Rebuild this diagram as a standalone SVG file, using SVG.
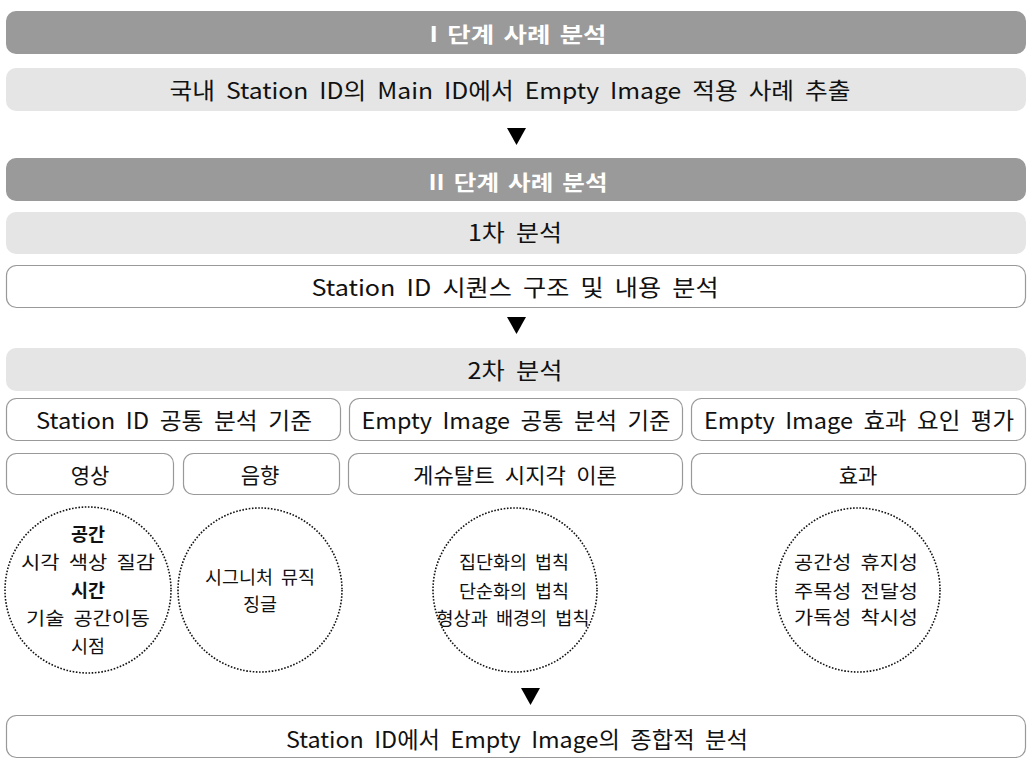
<svg xmlns="http://www.w3.org/2000/svg" width="1027" height="759" viewBox="0 0 1027 759">
<style>
.dark{fill:#9a9a9a;}
.light{fill:#e5e5e5;}
.box{fill:#ffffff;stroke:#999999;stroke-width:1.2;}
.circ{fill:none;stroke:#111111;stroke-width:1.6;stroke-dasharray:1.6 1.6;}
text{font-family:"Malgun Gothic","Noto Sans CJK KR","Noto Sans",sans-serif;fill:#111111;text-anchor:middle;}
.t{font-size:22.5px;word-spacing:5px;}
.s{font-size:21px;word-spacing:5px;}
.h{font-size:21px;font-weight:bold;fill:#ffffff;word-spacing:3px;}
.c{font-size:18.5px;word-spacing:4px;}
.cb{font-size:18.5px;font-weight:bold;}
</style>
<rect width="1027" height="759" fill="#ffffff"/>
<g id="stage1-title"><rect class="dark" x="6" y="11" width="1020" height="43" rx="10"/><text class="h" x="518" y="42" textLength="177" lengthAdjust="spacingAndGlyphs">I 단계 사례 분석</text></g>
<g id="stage1-content"><rect class="light" x="6" y="68" width="1020" height="43" rx="10"/><text class="t" x="510" y="99" textLength="681" lengthAdjust="spacingAndGlyphs">국내 Station ID의 Main ID에서 Empty Image 적용 사례 추출</text></g>
<g id="stage2-title"><rect class="dark" x="6" y="158" width="1020" height="43" rx="10"/><text class="h" x="518" y="190" textLength="179" lengthAdjust="spacingAndGlyphs">II 단계 사례 분석</text></g>
<g id="first-analysis"><rect class="light" x="6" y="212" width="1020" height="42" rx="10"/><text class="t" x="515" y="241" textLength="94" lengthAdjust="spacingAndGlyphs">1차 분석</text></g>
<g id="sequence-analysis"><rect class="box" x="6.5" y="265.5" width="1019" height="42" rx="10"/><text class="t" x="515" y="296" textLength="407" lengthAdjust="spacingAndGlyphs">Station ID 시퀀스 구조 및 내용 분석</text></g>
<g id="second-analysis"><rect class="light" x="6" y="348" width="1020" height="43" rx="10"/><text class="t" x="515" y="379" textLength="95" lengthAdjust="spacingAndGlyphs">2차 분석</text></g>
<g id="station-criteria"><rect class="box" x="6.5" y="398.5" width="334" height="42" rx="10"/><text class="t" x="174" y="429" textLength="276" lengthAdjust="spacingAndGlyphs">Station ID 공통 분석 기준</text></g>
<g id="empty-criteria"><rect class="box" x="349.5" y="398.5" width="333" height="42" rx="10"/><text class="t" x="516" y="429" textLength="309" lengthAdjust="spacingAndGlyphs">Empty Image 공통 분석 기준</text></g>
<g id="empty-effect"><rect class="box" x="691.5" y="398.5" width="334" height="42" rx="10"/><text class="t" x="859" y="429" textLength="310" lengthAdjust="spacingAndGlyphs">Empty Image 효과 요인 평가</text></g>
<g id="video"><rect class="box" x="6.5" y="453.5" width="167" height="41" rx="10"/><text class="s" x="90" y="483">영상</text></g>
<g id="sound"><rect class="box" x="183.5" y="453.5" width="156" height="41" rx="10"/><text class="s" x="260" y="483">음향</text></g>
<g id="gestalt"><rect class="box" x="348.5" y="453.5" width="334" height="41" rx="10"/><text class="s" x="515" y="483" textLength="204" lengthAdjust="spacingAndGlyphs">게슈탈트 시지각 이론</text></g>
<g id="effect"><rect class="box" x="691.5" y="453.5" width="334" height="41" rx="10"/><text class="s" x="858" y="483">효과</text></g>
<g id="video-items"><circle class="circ" cx="88" cy="590" r="83"/>
<text class="cb" x="88" y="541">공간</text>
<text class="c" x="88" y="569" textLength="134" lengthAdjust="spacingAndGlyphs">시각 색상 질감</text>
<text class="cb" x="88" y="597">시간</text>
<text class="c" x="88" y="625" textLength="124" lengthAdjust="spacingAndGlyphs">기술 공간이동</text>
<text class="c" x="88" y="653">시점</text></g>
<g id="sound-items"><circle class="circ" cx="260" cy="590" r="82"/>
<text class="c" x="260" y="584" textLength="110" lengthAdjust="spacingAndGlyphs">시그니처 뮤직</text>
<text class="c" x="260" y="611">징글</text></g>
<g id="gestalt-items"><circle class="circ" cx="515" cy="590" r="82"/>
<text class="c" x="514" y="569" textLength="110" lengthAdjust="spacingAndGlyphs">집단화의 법칙</text>
<text class="c" x="514" y="598" textLength="110" lengthAdjust="spacingAndGlyphs">단순화의 법칙</text>
<text class="c" x="513" y="625" textLength="153" lengthAdjust="spacingAndGlyphs">형상과 배경의 법칙</text></g>
<g id="effect-items"><circle class="circ" cx="858" cy="590" r="82"/>
<text class="c" x="856" y="569" textLength="124" lengthAdjust="spacingAndGlyphs">공간성 휴지성</text>
<text class="c" x="856" y="598" textLength="124" lengthAdjust="spacingAndGlyphs">주목성 전달성</text>
<text class="c" x="856" y="624" textLength="124" lengthAdjust="spacingAndGlyphs">가독성 착시성</text></g>
<g id="synthesis"><rect class="box" x="6.5" y="715.5" width="1019" height="42" rx="10"/><text class="t" x="517" y="748" textLength="462" lengthAdjust="spacingAndGlyphs">Station ID에서 Empty Image의 종합적 분석</text></g>
<g id="connectors" fill="#000000">
<polygon points="507,128 526,128 516.5,145"/>
<polygon points="507,317 526,317 516.5,334"/>
<polygon points="521,688 540,688 530.5,705"/>
</g>
</svg>
